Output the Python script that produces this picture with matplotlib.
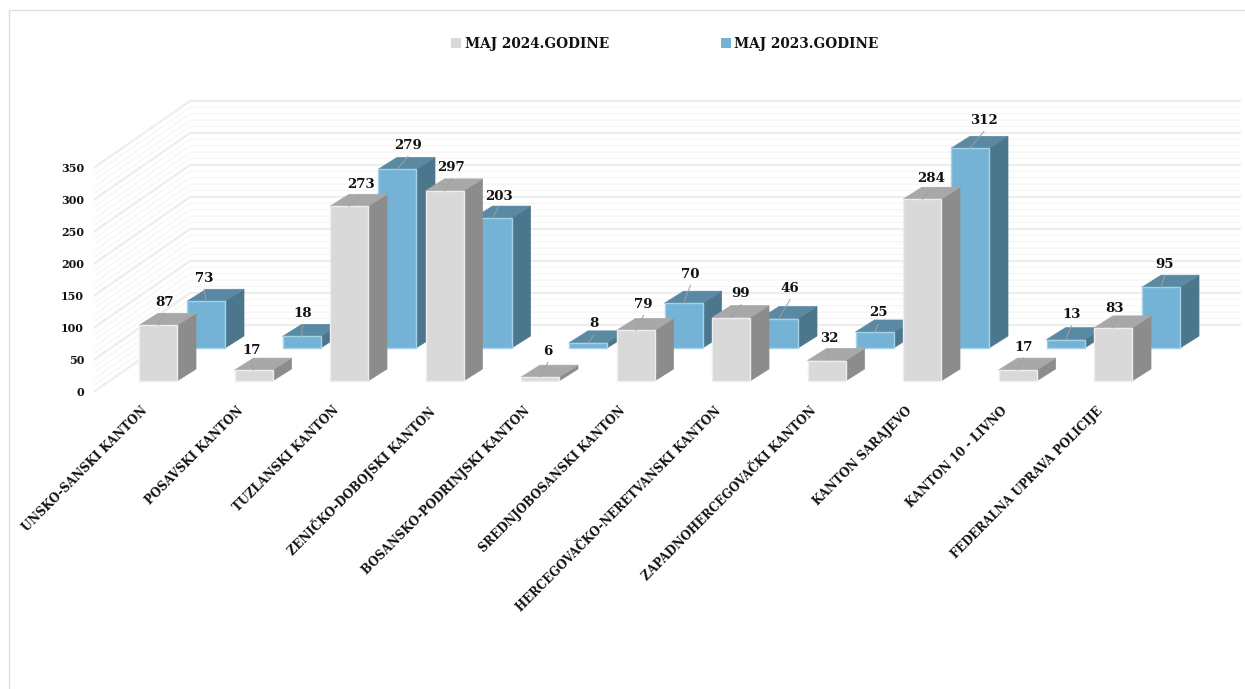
import matplotlib
matplotlib.use("Agg")
import matplotlib.pyplot as plt
from matplotlib.patches import Polygon, Patch

cantons = ["UNSKO-SANSKI KANTON", "POSAVSKI KANTON", "TUZLANSKI KANTON",
           "ZENIČKO-DOBOJSKI KANTON", "BOSANSKO-PODRINJSKI KANTON",
           "SREDNJOBOSANSKI KANTON", "HERCEGOVAČKO-NERETVANSKI KANTON",
           "ZAPADNOHERCEGOVAČKI KANTON", "KANTON SARAJEVO", "KANTON 10 - LIVNO",
           "FEDERALNA UPRAVA POLICIJE"]
may_2024 = [87, 17, 273, 297, 6, 79, 99, 32, 284, 17, 83]
may_2023 = [73, 18, 279, 203, 8, 70, 46, 25, 312, 13, 95]
y_ticks = [0, 50, 100, 150, 200, 250, 300, 350]

# hand placed data labels, offset in px from the top front edge of each bar
label_off_2024 = [(7, -23), (-2, -20), (12, -22), (7, -23), (8, -26), (8, -26),
                  (10, -24), (3, -22), (9, -21), (6, -23), (2, -19)]
label_off_2023 = [(-2, -23), (1, -23), (11, -24), (6, -22), (6, -19), (7, -29),
                  (11, -30), (4, -19), (14, -28), (6, -25), (4, -23)]

# oblique projection of the 3D column chart, in image pixels
PX_PER_UNIT = 0.64
BAR_W = 38
SIDE_DX, SIDE_DY = 19, -12
STEP = 95.5
FRONT_X, FRONT_BASE = 139, 381
BACK_X, BACK_BASE = 187, 348
AXIS_X, AXIS_BASE = 95, 391
WALL_DX, WALL_DY = 95, -66
WALL_END = 1240

GREY = ("#d9d9d9", "#8c8c8c", "#a8a8a8", "#eeeeee")
BLUE = ("#74b3d6", "#4c768c", "#5a89a3", "#a6d2e8")

plt.rcParams["font.family"] = ["DejaVu Serif"]
plt.rcParams["font.weight"] = "bold"
TEXT = "#111111"

fig = plt.figure(figsize=(12.45, 6.89), dpi=100)
ax = fig.add_axes([0, 0, 1, 1])
ax.set_xlim(0, 1245)
ax.set_ylim(689, 0)
ax.axis("off")

# picture frame
ax.plot([9, 9, 1245], [689, 10, 10], color="#dedede", lw=1)

# walls: every 10 units a faint line, every 50 a stronger one
for v in range(0, 351, 10):
    major = v % 50 == 0
    col = "#eeeeee" if major else "#f6f6f6"
    lw = 1.6 if major else 0.9
    y0 = AXIS_BASE - v * PX_PER_UNIT
    ax.plot([AXIS_X, AXIS_X + WALL_DX, WALL_END], [y0, y0 + WALL_DY, y0 + WALL_DY],
            color=col, lw=lw, zorder=1)


def draw_bar(x, base, value, colors, z):
    front, side, top, edge = colors
    h = value * PX_PER_UNIT
    t = base - h
    ax.add_patch(Polygon([(x + BAR_W, base), (x + BAR_W + SIDE_DX, base + SIDE_DY),
                          (x + BAR_W + SIDE_DX, t + SIDE_DY), (x + BAR_W, t)],
                         fc=side, ec=side, lw=0.5, zorder=z))
    ax.add_patch(Polygon([(x, t), (x + BAR_W, t), (x + BAR_W + SIDE_DX, t + SIDE_DY),
                          (x + SIDE_DX, t + SIDE_DY)],
                         fc=top, ec=top, lw=0.5, zorder=z))
    ax.add_patch(Polygon([(x, base), (x + BAR_W, base), (x + BAR_W, t), (x, t)],
                         fc=front, ec=edge, lw=1, zorder=z + 0.1))
    return t


def draw_series(values, offsets, x0, base, colors, z):
    for i, (val, off) in enumerate(zip(values, offsets)):
        x = x0 + i * STEP
        t = draw_bar(x, base, val, colors, z)
        cx = x + BAR_W / 2
        lx, ly = cx + off[0], t + off[1]
        ax.plot([cx, lx], [t, ly + 11], color="#a0a0a0", lw=0.7, zorder=6)
        ax.text(lx, ly, str(val), ha="center", va="center", fontsize=9.6,
                color=TEXT, zorder=7)


draw_series(may_2023, label_off_2023, BACK_X, BACK_BASE, BLUE, 3)
draw_series(may_2024, label_off_2024, FRONT_X, FRONT_BASE, GREY, 4)

for v in y_ticks:
    ax.text(84, AXIS_BASE + 1.5 - v * PX_PER_UNIT, str(v), ha="right", va="center",
            fontsize=8, color=TEXT)

for i, name in enumerate(cantons):
    ax.text(FRONT_X + 2 + i * STEP, 404, name, rotation=45, rotation_mode="anchor",
            ha="right", va="top", fontsize=8.45, color=TEXT)

handles = [Patch(fc=GREY[0], label="MAJ 2024.GODINE"),
           Patch(fc=BLUE[0], label="MAJ 2023.GODINE")]
ax.legend(handles=handles, ncols=2, loc="center", bbox_to_anchor=(665, 44),
          bbox_transform=ax.transData, frameon=False, fontsize=9.8,
          handlelength=0.75, handleheight=0.75, handletextpad=0.25,
          columnspacing=8.2, labelcolor=TEXT)

fig.savefig("out.png", dpi=100)
